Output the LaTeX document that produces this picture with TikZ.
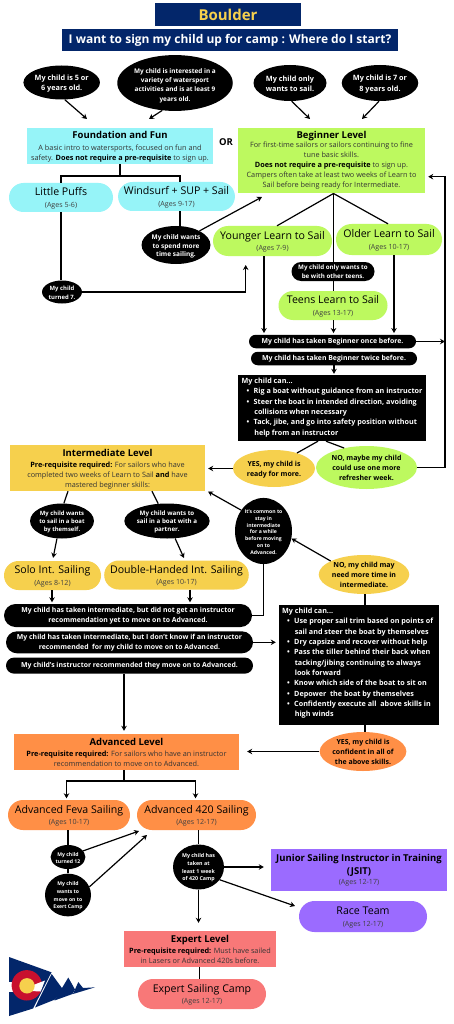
\documentclass[tikz,border=0pt]{standalone}
\usepackage{fontspec}
\setmainfont{Open Sans}
\usetikzlibrary{arrows.meta,shapes.geometric,shapes.misc}
\definecolor{navy}{HTML}{03266A}
\definecolor{gold}{HTML}{F6D04D}
\definecolor{cy}{HTML}{96F4F8}
\definecolor{lime}{HTML}{BDF95F}
\definecolor{orng}{HTML}{FF8F46}
\definecolor{purp}{HTML}{9B6BFF}
\definecolor{rosy}{HTML}{F87878}
\definecolor{redc}{HTML}{C8102E}
\newcommand{\fs}[1]{\fontsize{#1}{#1}\selectfont\lineskiplimit=-20pt\relax}
\newcommand{\dn}[1]{\rule{0pt}{\dimexpr0.76em+#1pt+#1pt\relax}}
\tikzset{
 flow/.style={line width=1.2pt,black},
 arr/.style={flow,-{Stealth[length=5pt,width=5.5pt]}},
 oval/.style={ellipse,fill=black,text=white,inner sep=0pt,align=center,font=\bfseries},
 lbox/.style={inner sep=0pt,align=center,text=black,font=\fs{7}},
 pill/.style={rounded rectangle,inner sep=0pt,align=center,text=black,font=\fs{7}},
 bpill/.style={rounded rectangle,fill=black,text=white,inner sep=0pt,align=center,font=\bfseries\fs{6.9}},
 coval/.style={ellipse,inner sep=0pt,align=center,font=\bfseries\fs{7}},
 bullets/.style={anchor=north west,text=white,inner sep=0pt,align=left,font=\bfseries\fs{7.2}},
}
\newcommand{\ct}[2]{\rule{0pt}{10pt}{\fs{10.6}#1}\\[4.6pt]{\fs{7.1}\color{black!75}#2}}
\newcommand{\ttl}[1]{{\bfseries\fs{9.5}#1}}
\newcommand{\bd}[1]{{\fs{7.3}\color{black!80}#1}}
\newcommand{\kk}[1]{\textbf{\color{black}#1}}
\newcommand{\bu}{\hspace*{5pt}•\hspace{4.3pt}}
\newcommand{\bi}{\hspace*{12.6pt}}
\begin{document}
\begin{tikzpicture}[x=1pt,y=-1pt]
\useasboundingbox[fill=white] (0,0) rectangle (453,1024);
% titles
\node[fill=navy,minimum width=146pt,minimum height=22.5pt,inner sep=0pt,text=gold,font=\bfseries\fs{15}] (boulder) at (228,14.7) {Boulder};
\node[fill=navy,minimum width=336pt,minimum height=22pt,inner sep=0pt,text=white,font=\bfseries\fs{12}] (main) at (230,40) {I want to sign my child up for camp : Where do I start?};
% top ovals
\node[oval,minimum width=73pt,minimum height=34pt,font=\bfseries\fs{7.3}] (e1) at (61.7,82.5) {\dn{1.2}My child is 5 or\\[3pt]6 years old.};
\node[oval,minimum width=107pt,minimum height=53pt,font=\bfseries\fs{6.4}] (e2) at (175,83) {\dn{2.6}My child is interested in a\\[2.9pt]variety of watersport\\[2.9pt]activities and is at least 9\\[2.9pt]years old.};
\node[oval,minimum width=73pt,minimum height=36pt,font=\bfseries\fs{7.3}] (e3) at (290,83) {\dn{1}My child only\\[3pt]wants to sail.};
\node[oval,minimum width=73pt,minimum height=36pt,font=\bfseries\fs{7.3}] (e4) at (380,83) {\dn{1}My child is 7 or\\[3pt]8 years old.};
% foundation
\node[lbox,fill=cy,minimum width=186pt,minimum height=36pt] (found) at (120,146) {\rule{0pt}{9.2pt}\ttl{Foundation and Fun}\\[4.3pt]\bd{A basic intro to watersports, focused on fun and}\\[3.2pt]\bd{safety. \kk{Does not require a pre-requisite} to sign up.}};
\node[font=\bfseries\fs{9.5}] (or) at (226,142) {OR};
\node[lbox,fill=lime,minimum width=187pt,minimum height=65pt] (begin) at (331.5,160.5) {\ttl{Beginner Level}\\[1.7pt]\bd{For first-time sailors or sailors continuing to fine}\\[3pt]\bd{tune basic skills.}\\[3pt]\bd{\kk{Does not require a pre-requisite} to sign up.}\\[3pt]\bd{Campers often take at least two weeks of Learn to}\\[3pt]\bd{Sail before being ready for Intermediate.}};
\node[pill,fill=cy,minimum width=104pt,minimum height=29pt] (puffs) at (61,197.5) {\ct{Little Puffs}{(Ages 5-6)}};
\node[pill,fill=cy,minimum width=113pt,minimum height=29pt] (wind) at (176.5,196.5) {\ct{Windsurf + SUP + Sail}{(Ages 9-17)}};
\node[oval,minimum width=59pt,minimum height=38pt,font=\bfseries\fs{6.5}] (spend) at (176,245) {\dn{1.6}My child wants\\[2pt]to spend more\\[2pt]time sailing.};
\node[oval,minimum width=40pt,minimum height=23pt,font=\bfseries\fs{5.9}] (seven) at (62,292) {\dn{1}My child\\[3.1pt]turned 7.};
\node[pill,fill=lime,minimum width=119pt,minimum height=30pt] (young) at (272.5,241) {\ct{Younger Learn to Sail}{(Ages 7-9)}};
\node[pill,fill=lime,minimum width=106pt,minimum height=31pt] (older) at (389,239.5) {\ct{Older Learn to Sail}{(Ages 10-17)}};
\node[bpill,minimum width=83pt,minimum height=19pt,font=\bfseries\fs{6.2}] (teenwish) at (333,271.5) {My child only wants to\\[3pt]be with other teens.};
\node[pill,fill=lime,minimum width=109pt,minimum height=29pt] (teens) at (333,305.5) {\ct{Teens Learn to Sail}{(Ages 13-17)}};
\node[bpill,minimum width=167pt,minimum height=13.5pt] (once) at (332.5,341.5) {My child has taken Beginner once before.};
\node[bpill,minimum width=166pt,minimum height=13.5pt] (twice) at (334,358.5) {My child has taken Beginner twice before.};
\node[fill=black,minimum width=188pt,minimum height=66pt,inner sep=0pt] (can1) at (332,408) {};
\node[bullets] (can1t) at (241.5,378) {My child can...\\[3.1pt]
\bu Rig a boat without guidance from an instructor\\[3.1pt]
\bu Steer the boat in intended direction, avoiding\\[3.1pt]
\bi collisions when necessary\\[3.1pt]
\bu Tack, jibe, and go into safety position without\\[3.1pt]
\bi help from an instructor};
\node[coval,fill=gold,minimum width=82pt,minimum height=37pt] (yes1) at (274,468.5) {\dn{0.8}YES, my child is\\[3pt]ready for more.};
\node[coval,fill=lime,minimum width=101pt,minimum height=43pt] (no1) at (366.5,467.5) {\dn{0.8}NO, maybe my child\\[3pt]could use one more\\[3pt]refresher week.};
% intermediate
\node[lbox,fill=gold,minimum width=195pt,minimum height=46pt] (inter) at (107.5,468) {\rule{0pt}{9.2pt}\ttl{Intermediate Level}\\[4.3pt]\bd{\kk{Pre-requisite required:} For sailors who have}\\[3pt]\bd{completed two weeks of Learn to Sail \kk{and} have}\\[3pt]\bd{mastered beginner skills:}};
\node[oval,minimum width=58pt,minimum height=35pt,font=\bfseries\fs{5.9}] (self) at (62,521) {\dn{1.2}My child wants\\[2.1pt]to sail in a boat\\[2.1pt]by themself.};
\node[oval,minimum width=72pt,minimum height=35pt,font=\bfseries\fs{6.2}] (partner) at (167,521) {\dn{1.2}My child wants to\\[1.8pt]sail in a boat with a\\[1.8pt]partner.};
\node[oval,minimum width=57pt,minimum height=60pt,font=\bfseries\fs{5.1}] (common) at (263.5,531) {\dn{1}It's common to\\[1.7pt]stay in\\[1.7pt]intermediate\\[1.7pt]for a while\\[1.7pt]before moving\\[1.7pt]on to\\[1.7pt]Advanced.};
\node[coval,fill=gold,minimum width=86pt,minimum height=39pt] (no2) at (364,574.5) {\dn{0.8}NO, my child may\\[3pt]need more time in\\[3pt]intermediate.};
\node[pill,fill=gold,minimum width=97pt,minimum height=29pt] (solo) at (52.5,575.5) {\ct{Solo Int. Sailing}{(Ages 8-12)}};
\node[pill,fill=gold,minimum width=143pt,minimum height=29pt] (double) at (176.5,575) {\ct{Double-Handed Int. Sailing}{(Ages 10-17)}};
\node[bpill,minimum width=248pt,minimum height=23pt] (t1) at (128,615.5) {My child has taken intermediate, but did not get an instructor\\[3.1pt]recommendation yet to move on to Advanced.};
\node[bpill,minimum width=247pt,minimum height=22pt] (t2) at (129.5,642.3) {My child has taken intermediate, but I don't know if an instructor\\[3.1pt]recommended\ \ for my child to move on to Advanced.};
\node[bpill,minimum width=247pt,minimum height=16pt] (t3) at (129.5,665.6) {My child's instructor recommended they move on to Advanced.};
\node[fill=black,minimum width=160pt,minimum height=120pt,inner sep=0pt] (can2) at (359,665) {};
\node[bullets] (can2t) at (282,608) {My child can...\\[3.1pt]
\bu Use proper sail trim based on points of\\[3.1pt]
\bi sail and steer the boat by themselves\\[3.1pt]
\bu Dry capsize and recover without help\\[3.1pt]
\bu Pass the tiller behind their back when\\[3.1pt]
\bi tacking/jibing continuing to always\\[3.1pt]
\bi look forward\\[3.1pt]
\bu Know which side of the boat to sit on\\[3.1pt]
\bu Depower\ \ the boat by themselves\\[3.1pt]
\bu Confidently execute all\ \ above skills in\\[3.1pt]
\bi high winds};
\node[coval,fill=orng,minimum width=86pt,minimum height=39pt] (yes2) at (363,751.5) {\dn{0.8}YES, my child is\\[3pt]confident in all of\\[3pt]the above skills.};
% advanced
\node[lbox,fill=orng,minimum width=225pt,minimum height=36pt] (adv) at (126.5,752) {\ttl{Advanced Level}\\[4pt]\bd{\kk{Pre-requisite required:} For sailors who have an instructor}\\[3pt]\bd{recommendation to move on to Advanced.}};
\node[pill,fill=orng,minimum width=122pt,minimum height=30pt] (feva) at (69,815) {\ct{Advanced Feva Sailing}{(Ages 10-17)}};
\node[pill,fill=orng,minimum width=119pt,minimum height=30pt] (a420) at (196.5,815) {\ct{Advanced 420 Sailing}{(Ages 12-17)}};
\node[oval,minimum width=34pt,minimum height=24pt,font=\bfseries\fs{5.1}] (t12) at (68,857) {\dn{0.8}My child\\[1.9pt]turned 12};
\node[oval,minimum width=46pt,minimum height=40pt,font=\bfseries\fs{5.1}] (exw) at (68,895) {\dn{1}My child\\[2.6pt]wants to\\[2.6pt]move on to\\[2.6pt]Exert Camp};
\node[oval,minimum width=51pt,minimum height=45pt,font=\bfseries\fs{5.3}] (wk) at (198.5,867) {\dn{1}My child has\\[2.4pt]taken at\\[2.4pt]least 1 week\\[2.4pt]of 420 Camp};
\node[lbox,fill=purp,minimum width=176pt,minimum height=42pt] (jsit) at (359,870) {\ttl{Junior Sailing Instructor in Training}\\[6.3pt]\ttl{(JSIT)}\\[3pt]{\fs{7.1}\color{black!75}(Ages 12-17)}};
\node[pill,fill=purp,minimum width=128pt,minimum height=31pt] (race) at (363,916.5) {\ct{Race Team}{(Ages 12-17)}};
\node[lbox,fill=rosy,minimum width=152pt,minimum height=36pt] (expert) at (200,949) {\ttl{Expert Level}\\[4pt]\bd{\kk{Pre-requisite required:} Must have sailed}\\[3pt]\bd{in Lasers or Advanced 420s before.}};
\node[pill,fill=rosy,minimum width=128pt,minimum height=30pt] (camp) at (202,994) {\ct{Expert Sailing Camp}{(Ages 12-17)}};
% free ends
\coordinate (c1) at (87,119); \coordinate (c2) at (149,119); \coordinate (c3) at (310,119); \coordinate (c4) at (362,119);
\coordinate (bot) at (333.5,193.5);
\coordinate (hub) at (120,176);
\coordinate (tobeg) at (262,197);
\coordinate (toyoung) at (245.7,265);
\coordinate (loop) at (445,176.7);
\coordinate (toint) at (208,491.5);
\coordinate (split) at (124,781);
\coordinate (toa1) at (139,831);
\coordinate (toa2) at (147,835);
\coordinate (torace) at (295,906);
% connectors
\draw[arr] (e1.-80) -- (c1);
\draw[arr] (e2.-115) -- (c2);
\draw[arr] (e3.-85) -- (c3);
\draw[arr] (e4.-93) -- (c4);
\draw[flow] (found.south) -- (hub);
\draw[flow] (puffs.north) |- (hub) -| (wind.north -| 180,0);
\draw[flow] (puffs.south) -- (seven.north -| puffs.south);
\draw[flow] (wind.south -| 180,0) -- (spend.north -| 180,0);
\draw[arr] (spend.31) -- (tobeg);
\draw[arr] (seven.east) -| (toyoung);
\draw[flow] (bot) -- (young.north -| 277,0);
\draw[flow] (bot) -- (older.north -| 388,0);
\draw[flow] (bot) -- (teenwish.north -| bot);
\draw[flow] (teenwish.south -| bot) -- (teens.north -| bot);
\draw[arr,shorten >=1.5pt] (young.south -| 264,0) -- (once.north -| 264,0);
\draw[arr,shorten >=1.5pt] (teens.south -| bot) -- (once.north -| bot);
\draw[arr,shorten >=1.5pt] (older.south -| 394,0) -- (once.north -| 394,0);
\draw[arr] (once.east) -- (once.east -| loop);
\draw[arr,shorten >=1pt] (twice.south) -- (can1.north -| twice.south);
\draw[flow] (can1.south -| 318,0) -- (yes1.34);
\draw[flow] (can1.south -| 326,0) -- (no1.139);
\draw[arr,shorten >=3pt] (yes1.west) -- (yes1.west -| inter.east);
\draw[arr,shorten >=3pt] (no1.east) -| (loop) -- (begin.east |- loop);
\draw[flow] (inter.south -| 68,0) -- (self.84);
\draw[flow] (inter.south -| 152,0) -- (partner.117);
\draw[arr,shorten >=3pt] (self.-106) -- (solo.north -| 52.5,0);
\draw[arr,shorten >=2.5pt] (partner.-65) -- (double.north -| 185,0);
\draw[arr,shorten >=1.5pt] (solo.south -| 52,0) -- (t1.north -| 52,0);
\draw[arr,shorten >=1.5pt] (double.south -| 190,0) -- (t1.north -| 190,0);
\draw[flow] (t1.east) -| (common.south);
\draw[arr] (common.137) -- (toint);
\draw[arr] (no2.158) -- (common.-15);
\draw[flow] (no2.south -| 365,0) -- (can2.north -| 365,0);
\draw[arr,shorten >=3pt] (t2.east) -- (t2.east -| can2.west);
\draw[arr,shorten >=3pt] (t3.south -| split) -- (adv.north -| split);
\draw[flow] (can2.south -| 365,0) -- (yes2.north -| 365,0);
\draw[arr,shorten >=8pt] (yes2.west) -- (yes2.west -| adv.east);
\draw[flow] (adv.south -| split) -- (split);
\draw[arr,shorten >=1.5pt] (split) -| (feva.north -| 66.5,0);
\draw[arr,shorten >=1.5pt] (split) -| (a420.north -| 195.5,0);
\draw[flow] (feva.south -| t12.north) -- (t12.north);
\draw[flow] (t12.south) -- (exw.north);
\draw[arr] (t12.22) -- (toa1);
\draw[arr] (exw.21) -- (toa2);
\draw[flow] (a420.south -| wk.north) -- (wk.north);
\draw[arr,shorten >=8pt] (wk.south) -- (expert.north -| wk.south);
\draw[arr,shorten >=7pt] (wk.east) -- (wk.east -| jsit.west);
\draw[arr] (wk.-31) -- (torace);
\draw[flow] (expert.south -| 199.5,0) -- (camp.north -| 199.5,0);
% logo
\fill[navy] (9,957) -- (51.5,972.3) -- (33,1008.5) -- (9,1016) -- cycle;
\fill[navy] (51.7,974) -- (63,989.5) -- (55,999.5) -- (35,1007.5) -- cycle;
\fill[navy] (68.3,977.5) -- (75,989.5) -- (72.5,994) -- (54.5,1000.5) -- cycle;
\fill[navy] (78.3,982) -- (83,988) -- (95,987.3) -- (73,994) -- cycle;
\fill[white] (9,982) rectangle (15,992);
\fill[redc] (26.8,985.3) circle[radius=15.2];
\fill[white] (32,985.5) -- (45,980.5) -- (40.7,991.5) -- (31,991) -- cycle;
\fill[gold] (27,985.8) circle[radius=7.7];
\end{tikzpicture}
\end{document}
